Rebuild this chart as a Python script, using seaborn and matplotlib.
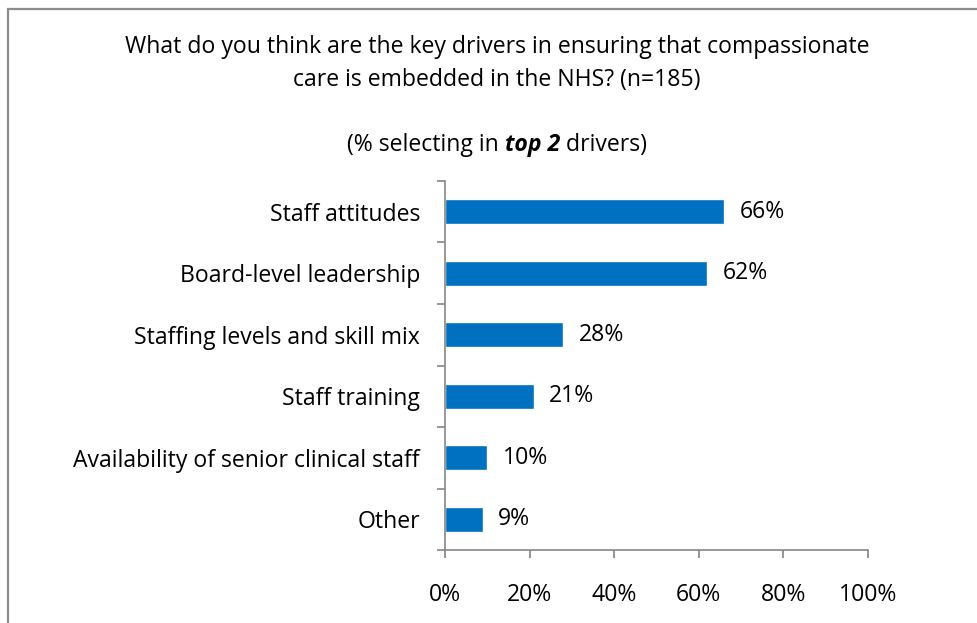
import matplotlib
matplotlib.use("Agg")
import matplotlib.pyplot as plt
import matplotlib.patches as mpatches
from matplotlib.ticker import FixedLocator, FuncFormatter
import seaborn as sns
import pandas as pd

categories = [
    "Staff attitudes",
    "Board-level leadership",
    "Staffing levels and skill mix",
    "Staff training",
    "Availability of senior clinical staff",
    "Other",
]
percent_selecting = [66, 62, 28, 21, 10, 9]
x_ticks = [0, 20, 40, 60, 80, 100]

title_lines = [
    "What do you think are the key drivers in ensuring that compassionate",
    "care is embedded in the NHS? (n=185)",
]
subtitle_parts = ["(% selecting in ", "top 2", " drivers)"]

df = pd.DataFrame({"driver": categories, "pct": percent_selecting})

sns.set_style("white")
plt.rcParams["font.family"] = ["Open Sans", "DejaVu Sans"]
plt.rcParams["text.color"] = "black"

W, H = 978, 623
fig = plt.figure(figsize=(W / 100, H / 100), dpi=100)
fig.patch.set_facecolor("white")

ax = fig.add_axes([445 / W, 1 - 550 / H, (868 - 445) / W, (550 - 181) / H])
sns.barplot(data=df, x="pct", y="driver", orient="h", color="#0070C0",
            saturation=1, width=0.4, ax=ax)

grey = "#868686"
fs = 16.6

ax.set_xlim(0, 100)
ax.set_ylim(len(categories) - 0.5, -0.5)
ax.set_xlabel("")
ax.set_ylabel("")
ax.xaxis.set_major_locator(FixedLocator(x_ticks))
ax.xaxis.set_major_formatter(FuncFormatter(lambda v, p: f"{v:.0f}%"))
ax.yaxis.set_minor_locator(FixedLocator([i - 0.5 for i in range(len(categories) + 1)]))
ax.tick_params(axis="y", which="major", length=0, pad=18, labelsize=fs, labelcolor="black")
ax.tick_params(axis="y", which="minor", length=6, width=1.2, color=grey, direction="out", left=True)
ax.tick_params(axis="x", which="major", length=6, width=1.2, color=grey, direction="out",
               bottom=True, pad=18, labelsize=fs, labelcolor="black")

for side in ["top", "right"]:
    ax.spines[side].set_visible(False)
for side in ["left", "bottom"]:
    ax.spines[side].set_color(grey)
    ax.spines[side].set_linewidth(1.2)

for cont in ax.containers:
    ax.bar_label(cont, labels=[f"{v}%" for v in percent_selecting], padding=11,
                 fontsize=fs, color="black")

# Title block
fig.text(497 / W, 1 - 47 / H, title_lines[0], ha="center", va="center", fontsize=fs)
fig.text(497 / W, 1 - 80 / H, title_lines[1], ha="center", va="center", fontsize=fs)

# Subtitle with bold italic emphasis, assembled from three pieces
fig.canvas.draw()
renderer = fig.canvas.get_renderer()
styles = [dict(), dict(fontweight="bold", fontstyle="italic"), dict()]
pieces = [fig.text(0, 1 - 145 / H, s, ha="left", va="center", fontsize=fs, **st)
          for s, st in zip(subtitle_parts, styles)]
widths = [p.get_window_extent(renderer).width for p in pieces]
x = 497 - sum(widths) / 2
for p, w in zip(pieces, widths):
    p.set_x(x / W)
    x += w

# Chart-area border
fig.add_artist(mpatches.Rectangle((8 / W, -0.1), 1.2, 1 - 9 / H + 0.1,
                                  transform=fig.transFigure, fill=False,
                                  edgecolor="#8c8c8c", linewidth=1.6))

fig.savefig("out.png", dpi=100)
